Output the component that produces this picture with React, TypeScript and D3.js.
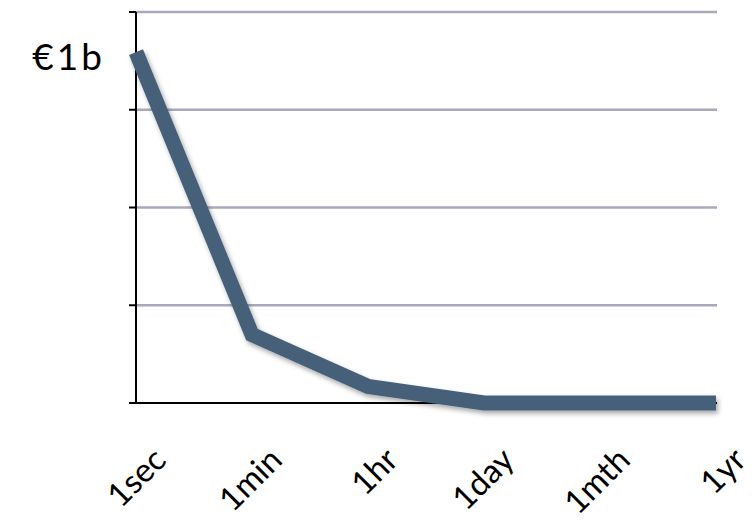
import React from "react";
import * as d3 from "d3";

const categories = ["1sec", "1min", "1hr", "1day", "1mth", "1yr"];
const values = [3.59, 0.7, 0.17, 0, 0, 0];
const yTicks = [0, 1, 2, 3, 4];
const yLabel = "€1b";

export default function App() {
  const W = 756, H = 531;
  const left = 136, right = 716, top = 12, bottom = 403;
  const x = d3.scalePoint<string>().domain(categories).range([left, right]);
  const y = d3.scaleLinear().domain([0, 4]).range([bottom, top]);
  const line = d3.line<number>().x((_, i) => x(categories[i]) as number).y((d) => y(d));
  const font = "'Lato', 'Open Sans', sans-serif";
  return (
    <svg width={W} height={H} style={{ position: "absolute", left: 0, top: 0, background: "#fff" }}>
      <defs>
        <filter id="sh" x="-10%" y="-10%" width="120%" height="130%">
          <feDropShadow dx="2" dy="3" stdDeviation="2.5" floodColor="#000" floodOpacity="0.35" />
        </filter>
      </defs>
      {yTicks.filter((t) => t > 0).map((t) => (
        <line key={t} x1={left} x2={right + 1} y1={y(t)} y2={y(t)} stroke="#aaa8bc" strokeWidth={2.5} />
      ))}
      {yTicks.map((t) => (
        <line key={"t" + t} x1={left - 7} x2={left} y1={y(t)} y2={y(t)} stroke="#000" strokeWidth={2} />
      ))}
      <line x1={left} x2={left} y1={top} y2={bottom} stroke="#000" strokeWidth={2} />
      <line x1={left - 7} x2={right + 1} y1={bottom} y2={bottom} stroke="#000" strokeWidth={2} />
      <path d={line(values) || ""} fill="none" stroke="#46607a" strokeWidth={15} strokeLinejoin="miter" filter="url(#sh)" />
      <text x={105} y={70} textAnchor="end" fontFamily={font} fontSize={37} letterSpacing={3} fill="#000">{yLabel}</text>
      {categories.map((c) => {
        const cx = (x(c) as number) + 32;
        const cy = 462;
        return (
          <text key={c} x={cx} y={cy} textAnchor="end" fontFamily={font} fontSize={33} fill="#000"
            transform={`rotate(-45 ${cx} ${cy})`}>{c}</text>
        );
      })}
    </svg>
  );
}
